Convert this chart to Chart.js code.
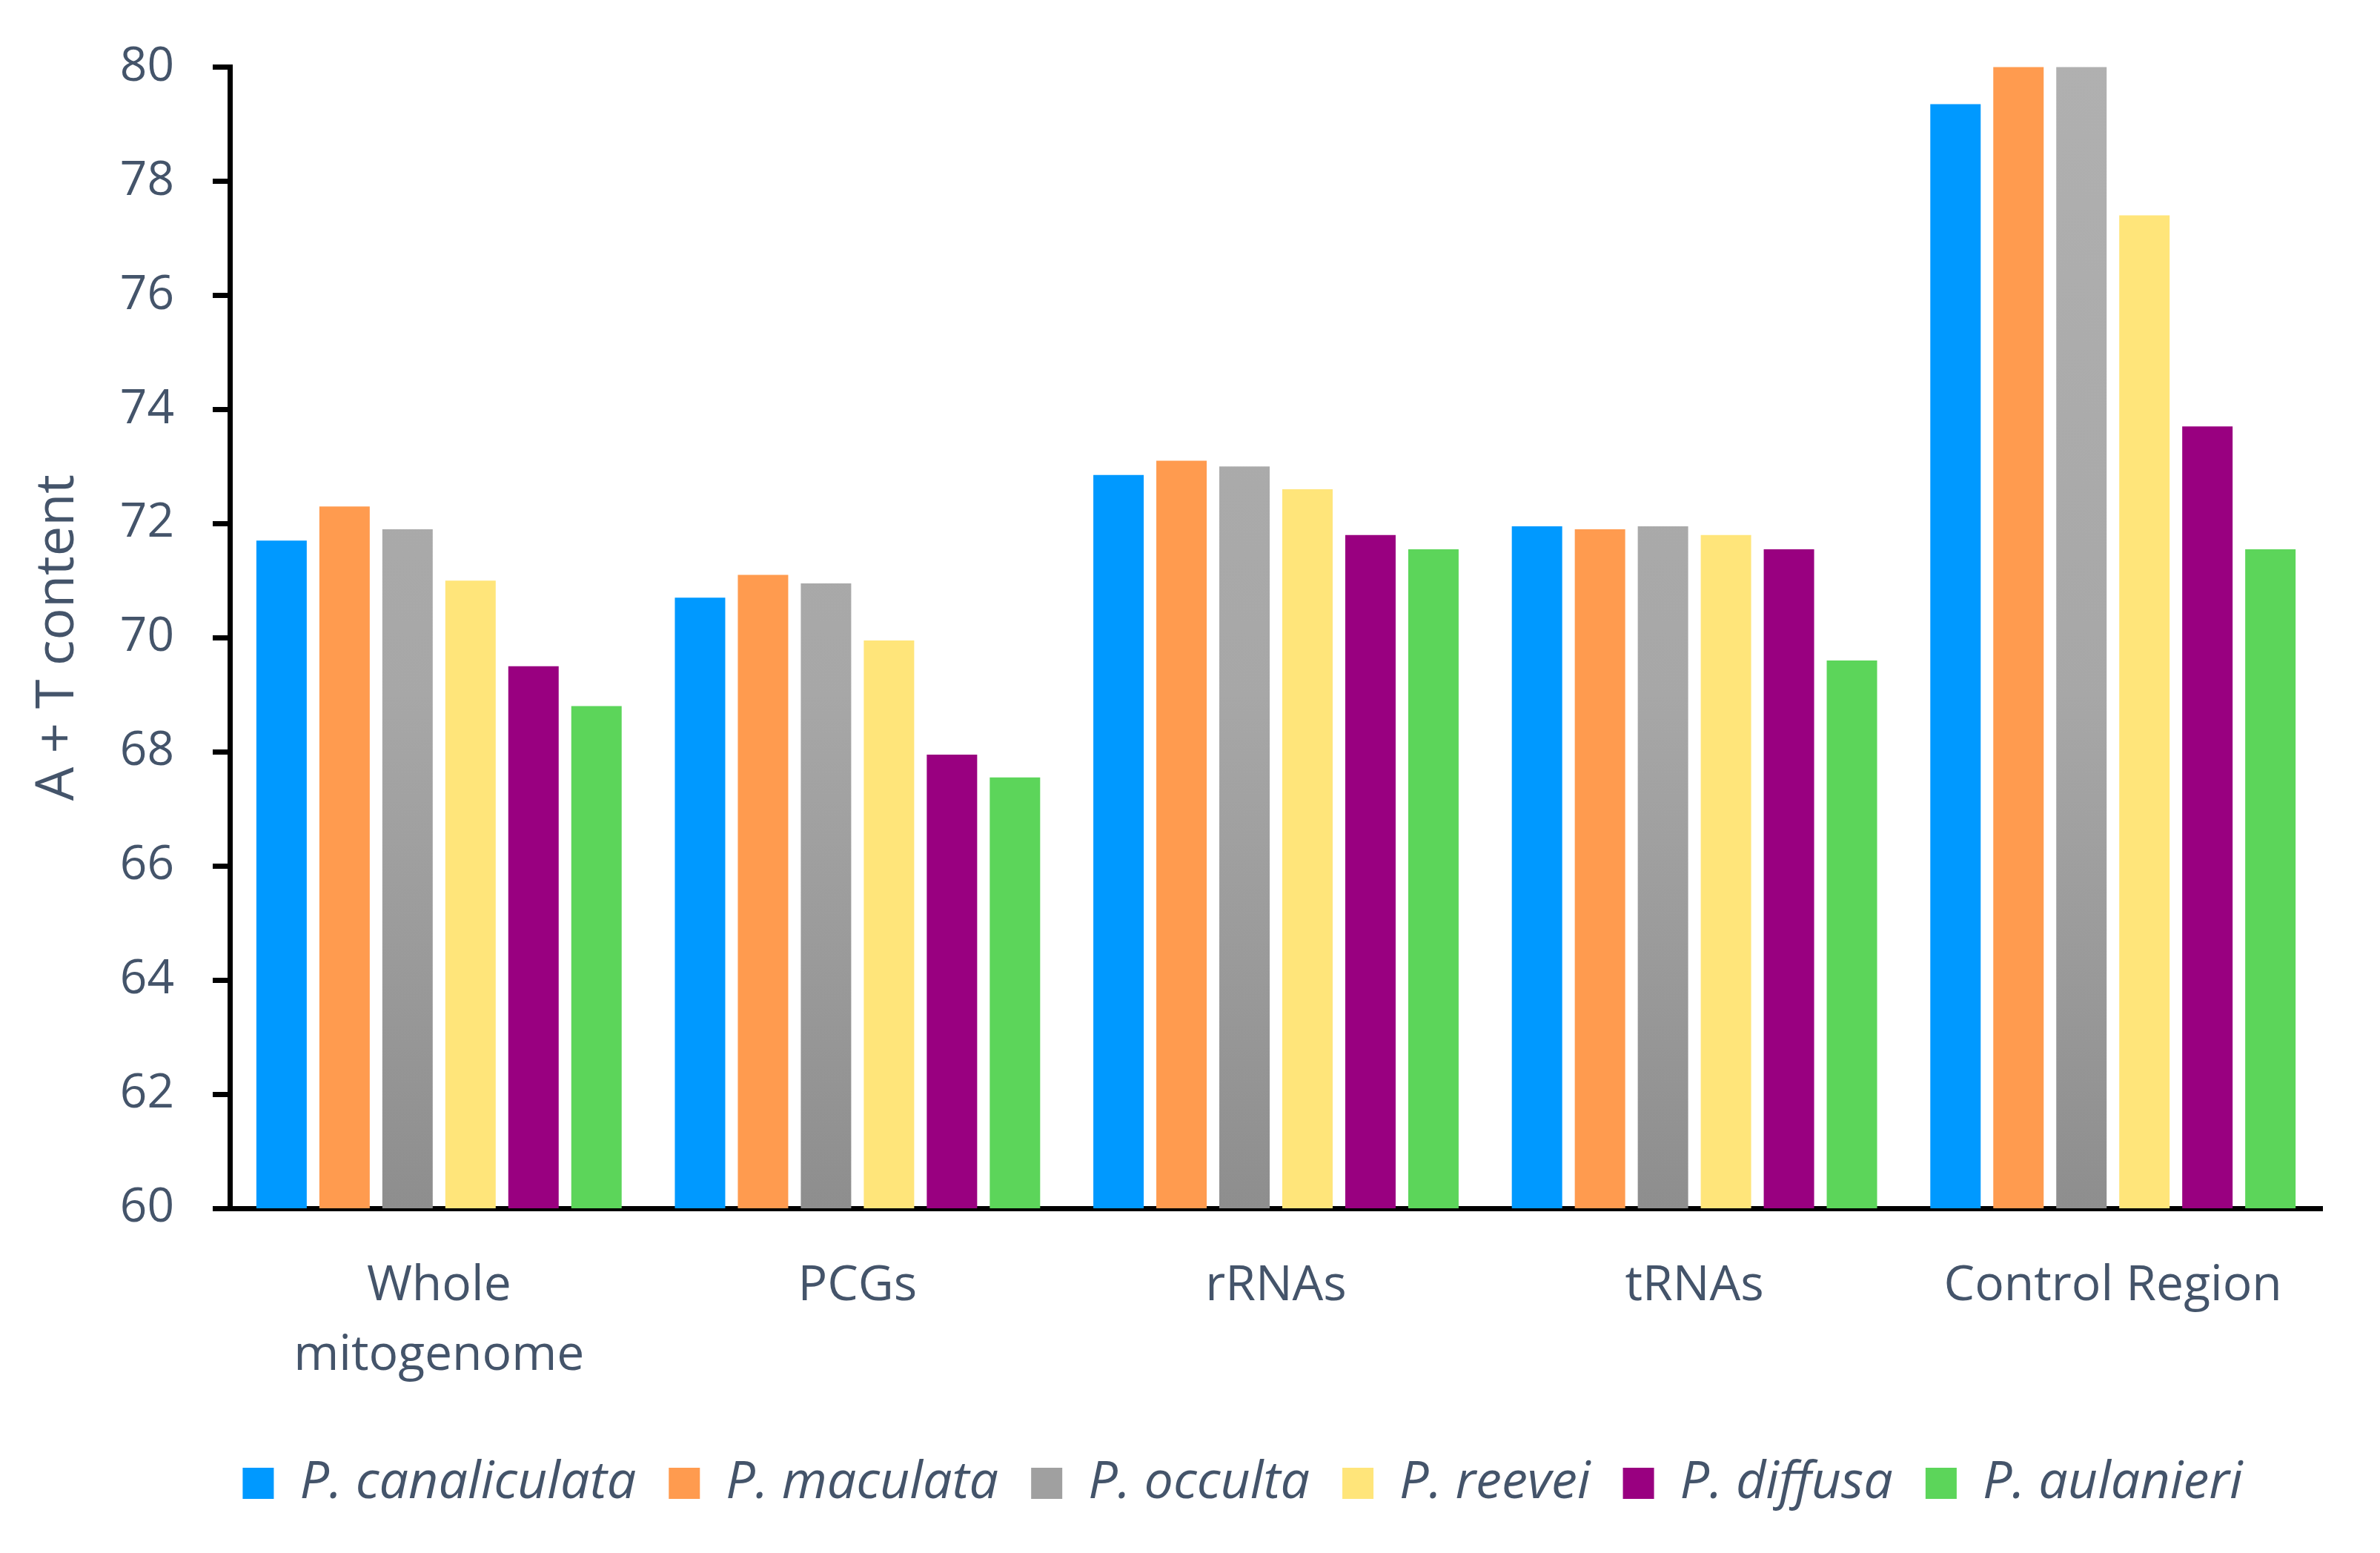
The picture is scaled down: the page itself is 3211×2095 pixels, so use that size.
<!DOCTYPE html>
<html>
<head>
<meta charset="utf-8">
<script src="https://cdn.jsdelivr.net/npm/chart.js@4.4.1/dist/chart.umd.min.js"></script>
<style>
  html, body { margin: 0; padding: 0; background: #fff; }
  canvas { display: block; }
</style>
</head>
<body>
<canvas id="grafica" width="3211" height="2095"></canvas>
<script>
  // --- Datos: contenido A + T (%) por región ---------------------------------
  const categorias = [['Whole', 'mitogenome'], 'PCGs', 'rRNAs', 'tRNAs', 'Control Region'];
  const especies = ['P. canaliculata', 'P. maculata', 'P. occulta', 'P. reevei', 'P. diffusa', 'P. aulanieri'];

  const canaliculata = [71.7, 70.7, 72.85, 71.95, 79.35];
  const maculata     = [72.3, 71.1, 73.1, 71.9, 80.5];
  const occulta      = [71.9, 70.95, 73.0, 71.95, 80.5];
  const reevei       = [71.0, 69.95, 72.6, 71.8, 77.4];
  const diffusa      = [69.5, 67.95, 71.8, 71.55, 73.7];
  const aulanieri    = [68.8, 67.55, 71.55, 69.6, 71.55];

  const yTicks = [60, 62, 64, 66, 68, 70, 72, 74, 76, 78, 80];

  const colores = ['#0099FF', '#FF9B4F', 'gris', '#FFE57A', '#990080', '#5CD55A'];
  const TEXTO = '#44546A';

  // degradado vertical para la serie gris (claro arriba, oscuro abajo)
  function gris(ctx) {
    const area = ctx.chart.chartArea;
    if (!area) return '#A6A6A6';
    const g = ctx.chart.ctx.createLinearGradient(0, area.top, 0, area.bottom);
    g.addColorStop(0, '#B0B0B0');
    g.addColorStop(0.55, '#A7A7A7');
    g.addColorStop(1, '#8E8E8E');
    return g;
  }

  const series = [canaliculata, maculata, occulta, reevei, diffusa, aulanieri];
  const datasets = series.map((valores, i) => ({
    label: especies[i],
    data: valores,
    backgroundColor: colores[i] === 'gris' ? gris : colores[i],
    borderWidth: 0,
    categoryPercentage: 0.903,
    barPercentage: 0.8,
  }));

  // la leyenda original no está centrada en el lienzo: se corre a la derecha
  const moverLeyenda = {
    id: 'moverLeyenda',
    afterLayout(chart) {
      chart.legend.left += 110;
      chart.legend.right += 110;
    },
  };

  Chart.defaults.font.family = "'Open Sans', sans-serif";
  Chart.defaults.color = TEXTO;

  new Chart(document.getElementById('grafica'), {
    type: 'bar',
    data: { labels: categorias, datasets },
    plugins: [moverLeyenda],
    options: {
      responsive: false,
      devicePixelRatio: 1,
      animation: false,
      layout: { padding: { top: 82, right: 78, left: 0, bottom: 49 } },
      plugins: {
        tooltip: { enabled: false },
        legend: {
          position: 'bottom',
          labels: {
            boxWidth: 42, boxHeight: 42, padding: 44, color: TEXTO,
            font: { size: 70, style: 'italic' },
            generateLabels: (chart) => Chart.defaults.plugins.legend.labels.generateLabels(chart)
              .map((it, i) => ({ ...it, fillStyle: colores[i] === 'gris' ? '#A0A0A0' : colores[i], strokeStyle: 'transparent', lineWidth: 0 })),
          },
        },
      },
      scales: {
        x: {
          grid: { display: false, drawTicks: false },
          border: { display: true, color: '#000', width: 7 },
          ticks: { color: TEXTO, font: { size: 66, lineHeight: 1.424 }, padding: 58, autoSkip: false, maxRotation: 0 },
          afterFit: (s) => { s.height = 292; },
        },
        y: {
          min: 60, max: 80,
          afterBuildTicks: (s) => { s.ticks = yTicks.map(v => ({ value: v })); },
          grid: { drawOnChartArea: false, drawTicks: true, tickLength: 23, color: '#000', lineWidth: 7 },
          border: { display: true, color: '#000', width: 7 },
          ticks: { color: TEXTO, font: { size: 64 }, padding: 52 },
          title: { display: true, text: 'A + T content', color: TEXTO, font: { size: 72 }, padding: { top: 35, bottom: 0 } },
          afterFit: (s) => { s.width = 310; },
        },
      },
    },
  });
</script>
</body>
</html>
